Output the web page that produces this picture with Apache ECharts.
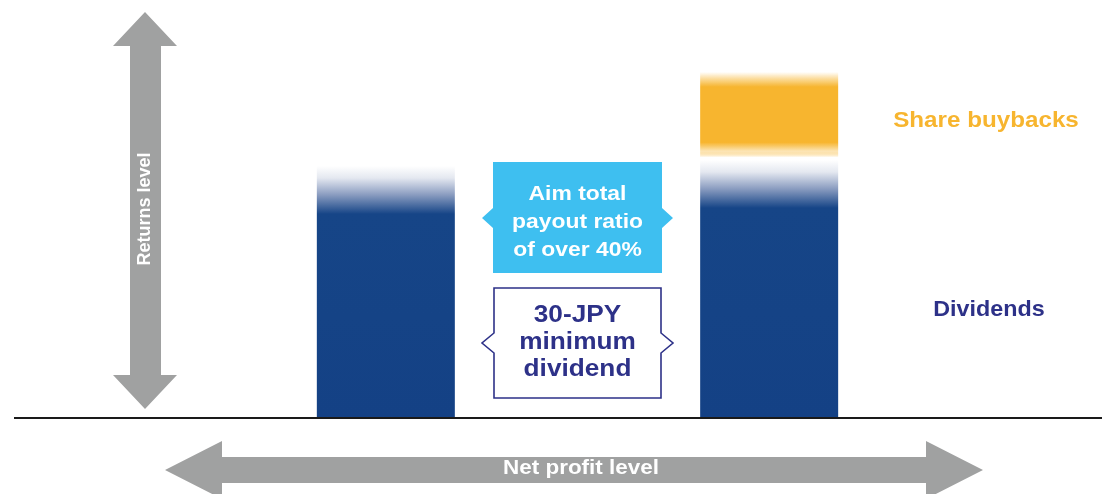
<!DOCTYPE html>
<html>
<head>
<meta charset="utf-8">
<script src="https://cdn.jsdelivr.net/npm/echarts@6/dist/echarts.min.js"></script>
<style>
  html, body { margin: 0; padding: 0; background: #ffffff; }
  #chart { width: 1102px; height: 494px; }
</style>
</head>
<body>
<div id="chart"></div>
<script>
// Shareholder return policy: returns rise with net profit
const categories = ['Base profit', 'Policy', 'Higher profit'];
const dividends = [63, null, 64.5];
const buybacks = [null, null, 22];

const payoutText = ['Aim total', 'payout ratio', 'of over 40%'];
const floorText = ['30-JPY', 'minimum', 'dividend'];
const seriesLabels = { buybacks: 'Share buybacks', dividends: 'Dividends' };
const axisTitles = { y: 'Returns level', x: 'Net profit level' };

const NAVY = '#144185';
const GOLD = '#f7b52f';
const CYAN = '#3ebff0';
const INK = '#2d3188';
const ARROW = '#a0a1a1';
const FONT = "'Liberation Sans', Arial, sans-serif";

const chart = echarts.init(document.getElementById('chart'), null, { renderer: 'canvas' });

// soft top edge on each dividend bar (about 12 units of fade)
function dividendStyle(v) {
  const f = Math.min(0.9, 12 / v);
  return {
    color: new echarts.graphic.LinearGradient(0, 0, 0, 1, [
      { offset: 0, color: '#ffffff' },
      { offset: f * 0.25, color: '#e4e8f0' },
      { offset: f * 0.6, color: '#8a9cc0' },
      { offset: f, color: '#164587' },
      { offset: 1, color: NAVY }
    ])
  };
}
// buyback block fades in at the top and out at the bottom
function buybackStyle() {
  return {
    color: new echarts.graphic.LinearGradient(0, 0, 0, 1, [
      { offset: 0, color: 'rgba(247,181,47,0)' },
      { offset: 0.08, color: 'rgba(247,181,47,0.5)' },
      { offset: 0.17, color: GOLD },
      { offset: 0.8, color: GOLD },
      { offset: 0.9, color: 'rgba(247,181,47,0.35)' },
      { offset: 0.97, color: 'rgba(255,255,255,1)' },
      { offset: 1, color: 'rgba(255,255,255,1)' }
    ])
  };
}

chart.setOption({
  animation: false,
  grid: { left: 290, right: 237, top: 18, bottom: 76 },
  xAxis: {
    type: 'category',
    data: categories,
    show: false
  },
  yAxis: {
    type: 'value',
    min: 0,
    max: 100,
    show: false
  },
  series: [
    {
      name: seriesLabels.dividends,
      type: 'bar',
      stack: 'returns',
      barWidth: 138,
      data: dividends.map(v => v == null ? null : { value: v, itemStyle: dividendStyle(v) })
    },
    {
      name: seriesLabels.buybacks,
      type: 'bar',
      stack: 'returns',
      barWidth: 138,
      data: buybacks.map(v => v == null ? null : { value: v, itemStyle: buybackStyle() })
    }
  ]
});

const baseY = chart.convertToPixel({ yAxisIndex: 0 }, 0);

// centred text; sx widens the lettering a little
function txt(text, x, y, font, fill, sx, extra) {
  return Object.assign({
    type: 'text',
    x: x, y: y,
    scaleX: sx || 1,
    style: {
      text: text, font: font, fill: fill,
      textAlign: 'center', textVerticalAlign: 'middle',
      align: 'center', verticalAlign: 'middle'
    }
  }, extra || {});
}

const graphics = [
  // baseline
  {
    type: 'line',
    shape: { x1: 14, y1: baseY, x2: 1102, y2: baseY },
    style: { stroke: '#1a1a1a', lineWidth: 2 },
    z: 10
  },
  // vertical double arrow
  {
    type: 'polygon',
    shape: { points: [[145, 12], [177, 46], [161, 46], [161, 375], [177, 375], [145, 409], [113, 375], [130, 375], [130, 46], [113, 46]] },
    style: { fill: ARROW }
  },
  txt(axisTitles.y, 145, 209, 'bold 18px ' + FONT, '#ffffff', 1, { rotation: Math.PI / 2 }),
  // horizontal double arrow
  {
    type: 'polygon',
    shape: { points: [[165, 470], [222, 441], [222, 457], [926, 457], [926, 441], [983, 470], [926, 499], [926, 483], [222, 483], [222, 499]] },
    style: { fill: ARROW }
  },
  txt(axisTitles.x, 581, 468, 'bold 21px ' + FONT, '#ffffff', 1.07),
  // payout ratio callout
  {
    type: 'polygon',
    shape: { points: [[493, 162], [662, 162], [662, 208], [673, 218], [662, 228], [662, 273], [493, 273], [493, 228], [482, 218], [493, 208]] },
    style: { fill: CYAN }
  },
  txt(payoutText[0], 577.5, 194, 'bold 21px ' + FONT, '#ffffff', 1.09),
  txt(payoutText[1], 577.5, 222, 'bold 21px ' + FONT, '#ffffff', 1.09),
  txt(payoutText[2], 577.5, 250, 'bold 21px ' + FONT, '#ffffff', 1.09),
  // minimum dividend callout
  {
    type: 'polygon',
    shape: { points: [[494, 288], [661, 288], [661, 333], [673, 343], [661, 353], [661, 398], [494, 398], [494, 353], [482, 343], [494, 333]] },
    style: { fill: '#ffffff', stroke: INK, lineWidth: 1.6 }
  },
  txt(floorText[0], 577.5, 316, 'bold 23px ' + FONT, INK, 1.14),
  txt(floorText[1], 577.5, 343, 'bold 23px ' + FONT, INK, 1.14),
  txt(floorText[2], 577.5, 370, 'bold 23px ' + FONT, INK, 1.14),
  // series labels
  txt(seriesLabels.buybacks, 986, 121, 'bold 22px ' + FONT, GOLD, 1.1),
  txt(seriesLabels.dividends, 989, 310, 'bold 22px ' + FONT, INK, 1.06)
];

chart.setOption({ graphic: { elements: graphics } });
</script>
</body>
</html>
